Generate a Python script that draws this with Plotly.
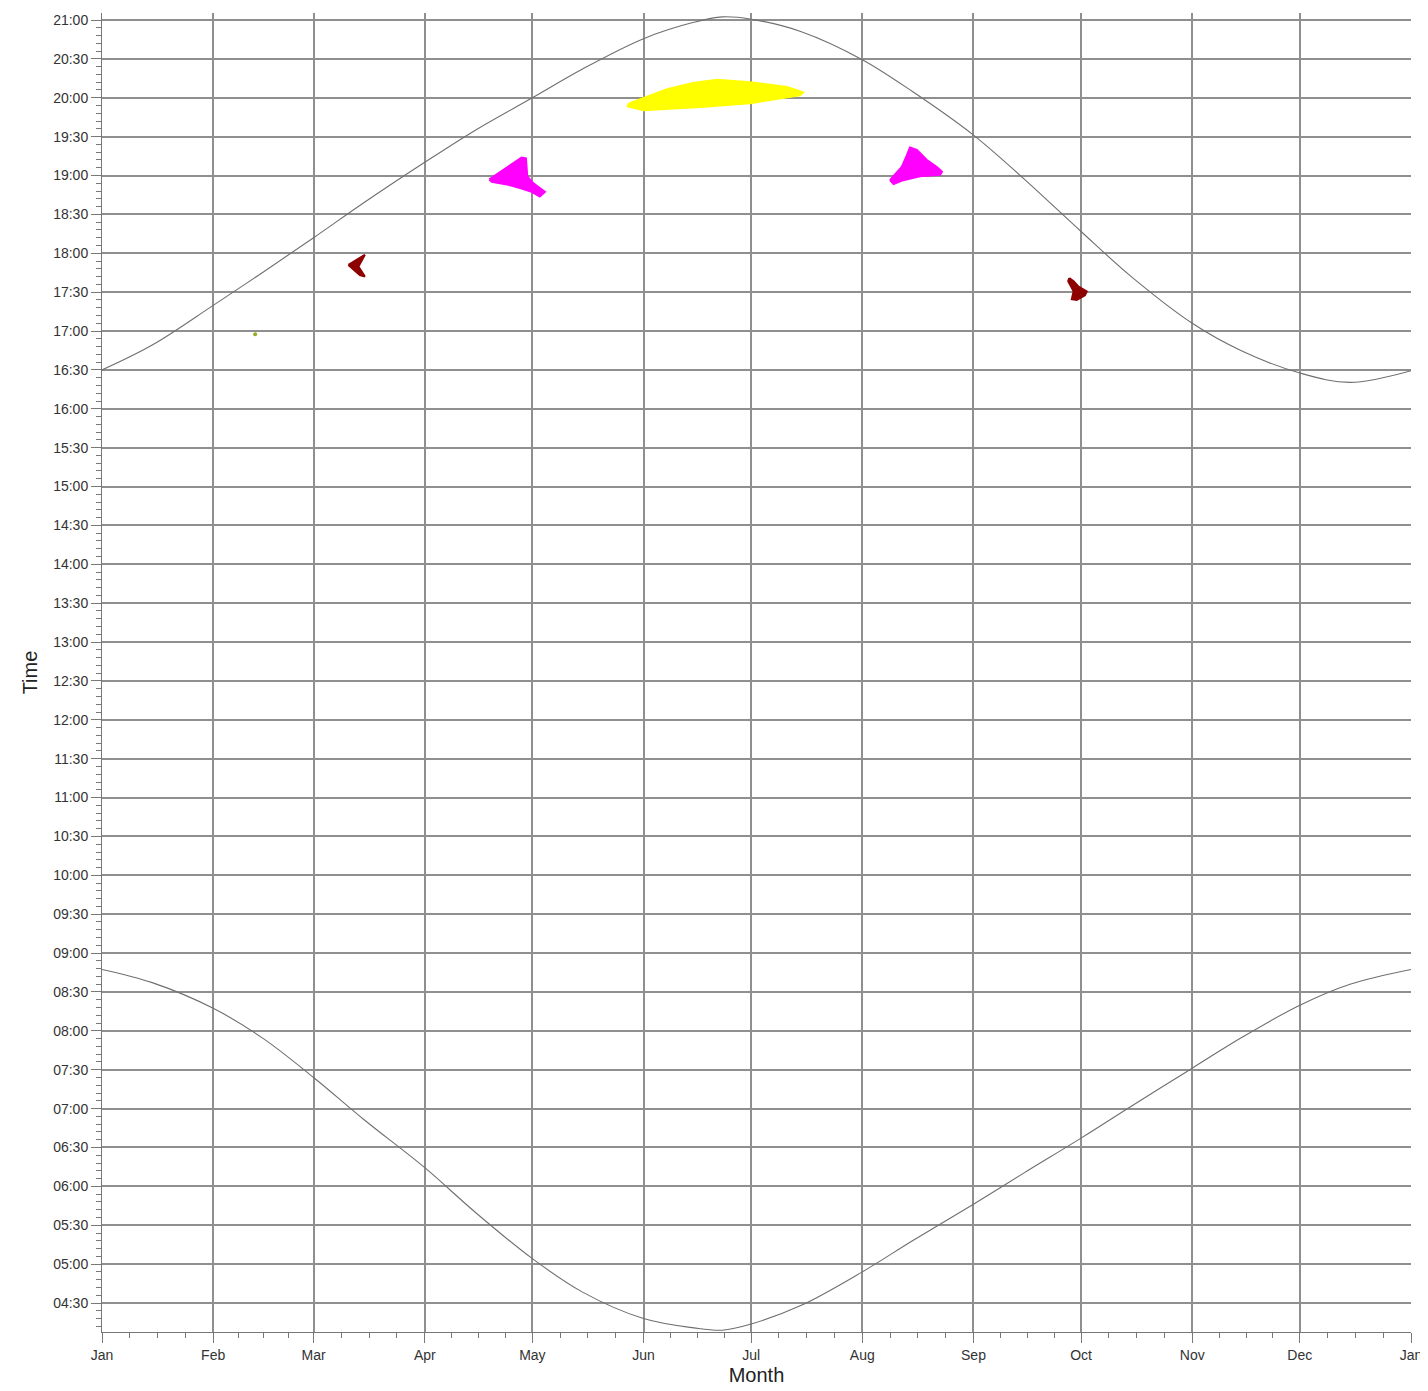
import plotly.graph_objects as go
import datetime as dt

# ---------------- data ----------------
SUN_DATES = ["2023-01-01", "2023-01-15", "2023-02-01", "2023-02-15", "2023-03-01", "2023-03-15",
             "2023-04-01", "2023-04-15", "2023-05-01", "2023-05-15", "2023-06-01", "2023-06-15",
             "2023-06-23", "2023-07-01", "2023-07-15", "2023-08-01", "2023-08-15", "2023-09-01",
             "2023-09-15", "2023-10-01", "2023-10-15", "2023-11-01", "2023-11-15", "2023-12-01",
             "2023-12-15", "2024-01-01"]
SUNSET_HOURS = [16.50, 16.82, 17.33, 17.76, 18.20, 18.65, 19.17, 19.58, 20.00, 20.37, 20.76, 20.97,
                21.04, 21.01, 20.85, 20.49, 20.08, 19.52, 18.96, 18.28, 17.70, 17.10, 16.74, 16.46,
                16.34, 16.49]
SUNRISE_HOURS = [8.79, 8.62, 8.29, 7.90, 7.40, 6.86, 6.24, 5.67, 5.07, 4.64, 4.30, 4.18,
                 4.15, 4.23, 4.47, 4.90, 5.30, 5.77, 6.17, 6.62, 7.03, 7.52, 7.92, 8.33,
                 8.60, 8.79]

YELLOW_DATES = ["2023-05-27 10:00", "2023-06-01 00:00", "2023-06-16 19:00", "2023-06-30 17:00",
                "2023-07-14 14:00", "2023-07-15 12:00", "2023-07-11 00:00", "2023-06-30 17:00",
                "2023-06-21 12:00", "2023-06-14 19:00", "2023-06-07 14:00", "2023-06-02 00:00",
                "2023-05-28 05:00"]
YELLOW_HOURS = [19.89, 19.84, 19.88, 19.93, 20.03, 20.07, 20.14, 20.20, 20.23, 20.19, 20.11, 20.01, 19.93]

MAGENTA1_DATES = ["2023-04-19 00:00", "2023-04-26 14:00", "2023-04-28 00:00", "2023-04-29 05:00",
                  "2023-04-29 14:00", "2023-05-01 07:00", "2023-05-04 12:00", "2023-05-03 02:00",
                  "2023-04-30 19:00", "2023-04-27 14:00", "2023-04-24 07:00", "2023-04-19 17:00"]
MAGENTA1_HOURS = [18.95, 19.18, 19.23, 19.22, 18.99, 18.90, 18.79, 18.73, 18.79, 18.84, 18.88, 18.92]

MAGENTA2_DATES = ["2023-08-08 17:00", "2023-08-12 00:00", "2023-08-13 10:00", "2023-08-14 07:00",
                  "2023-08-16 05:00", "2023-08-19 00:00", "2023-08-21 19:00", "2023-08-23 05:00",
                  "2023-08-22 17:00", "2023-08-17 02:00", "2023-08-12 10:00", "2023-08-09 17:00"]
MAGENTA2_HOURS = [18.94, 19.11, 19.26, 19.36, 19.33, 19.20, 19.11, 19.05, 19.01, 18.99, 18.94, 18.89]

DARKRED1_DATES = ["2023-03-10 17:00", "2023-03-15 07:00", "2023-03-13 12:00", "2023-03-15 07:00",
                  "2023-03-13 22:00"]
DARKRED1_HOURS = [17.85, 17.98, 17.83, 17.70, 17.72]

DARKRED2_DATES = ["2023-09-27 17:00", "2023-09-28 22:00", "2023-09-30 07:00", "2023-10-02 14:00",
                  "2023-10-02 02:00", "2023-09-29 19:00", "2023-09-28 10:00", "2023-09-28 22:00",
                  "2023-09-27 10:00"]
DARKRED2_HOURS = [17.68, 17.64, 17.57, 17.51, 17.46, 17.40, 17.41, 17.51, 17.64]

GREEN_DATES = ["2023-02-12 17:00"]
GREEN_HOURS = [16.96]

MONTH_TICKS = ["2023-01-01", "2023-02-01", "2023-03-01", "2023-04-01", "2023-05-01", "2023-06-01",
               "2023-07-01", "2023-08-01", "2023-09-01", "2023-10-01", "2023-11-01", "2023-12-01",
               "2024-01-01"]
MONTH_LABELS = ["Jan", "Feb", "Mar", "Apr", "May", "Jun", "Jul", "Aug", "Sep", "Oct", "Nov", "Dec", "Jan"]

TIME_TICK_LABELS = ["04:30", "05:00", "05:30", "06:00", "06:30", "07:00", "07:30", "08:00",
                    "08:30", "09:00", "09:30", "10:00", "10:30", "11:00", "11:30", "12:00",
                    "12:30", "13:00", "13:30", "14:00", "14:30", "15:00", "15:30", "16:00",
                    "16:30", "17:00", "17:30", "18:00", "18:30", "19:00", "19:30", "20:00",
                    "20:30", "21:00"]

# ---------------- helpers ----------------
def label_to_hours(s):
    h, m = s.split(":")
    return int(h) + int(m) / 60.0

time_tickvals = [label_to_hours(s) for s in TIME_TICK_LABELS]

# minor ticks on the month axis: quarter points of each month
minor_x = []
for i in range(len(MONTH_TICKS) - 1):
    a = dt.datetime.fromisoformat(MONTH_TICKS[i])
    b = dt.datetime.fromisoformat(MONTH_TICKS[i + 1])
    for k in (1, 2, 3):
        minor_x.append((a + (b - a) * k / 4).isoformat(sep=" "))

FONT = "Liberation Sans, Arial, sans-serif"
GRID = "#8f8f8f"
CURVE = "#6f6f6f"

fig = go.Figure()

fig.add_trace(go.Scatter(x=SUN_DATES, y=SUNSET_HOURS, mode="lines",
                         line=dict(color=CURVE, width=1.1, shape="spline", smoothing=1.0),
                         showlegend=False, hoverinfo="skip"))
fig.add_trace(go.Scatter(x=SUN_DATES, y=SUNRISE_HOURS, mode="lines",
                         line=dict(color=CURVE, width=1.1, shape="spline", smoothing=1.0),
                         showlegend=False, hoverinfo="skip"))

def blob(xs, ys, color):
    fig.add_trace(go.Scatter(x=xs + xs[:1], y=ys + ys[:1], mode="lines", fill="toself",
                             fillcolor=color, line=dict(color=color, width=2),
                             showlegend=False, hoverinfo="skip"))

blob(YELLOW_DATES, YELLOW_HOURS, "#ffff00")
blob(MAGENTA1_DATES, MAGENTA1_HOURS, "#ff00ff")
blob(MAGENTA2_DATES, MAGENTA2_HOURS, "#ff00ff")
blob(DARKRED1_DATES, DARKRED1_HOURS, "#8e0000")
blob(DARKRED2_DATES, DARKRED2_HOURS, "#8e0000")

fig.add_trace(go.Scatter(x=GREEN_DATES, y=GREEN_HOURS, mode="markers",
                         marker=dict(color="#9aa824", size=4, line=dict(width=0)),
                         showlegend=False, hoverinfo="skip"))

# page body has an 8px margin, so the figure is shrunk by 8px and margins shifted
fig.update_layout(
    width=1420, height=1383,
    margin=dict(l=94, r=17, t=5, b=59),
    paper_bgcolor="white", plot_bgcolor="white",
    font=dict(family=FONT, color="#333333"),
    showlegend=False,
)

fig.update_xaxes(
    type="date",
    range=["2023-01-01", "2024-01-01"],
    tickmode="array", tickvals=MONTH_TICKS, ticktext=MONTH_LABELS,
    ticks="outside", ticklen=10, tickwidth=1, tickcolor="#777777",
    tickfont=dict(size=14, color="#333333"),
    ticklabeloverflow="allow",
    showgrid=True, gridcolor=GRID, gridwidth=1.5,
    showline=True, linecolor="#777777", linewidth=1,
    zeroline=False,
    minor=dict(tickmode="array", tickvals=minor_x, ticks="outside", ticklen=5,
               tickcolor="#777777", tickwidth=1, showgrid=False),
    title=dict(text="Month", font=dict(size=20, color="#222222"), standoff=6),
    automargin=False,
)

fig.update_yaxes(
    range=[4.127, 21.09],
    tickmode="array", tickvals=time_tickvals, ticktext=TIME_TICK_LABELS,
    ticks="outside", ticklen=10, tickwidth=1, tickcolor="#777777",
    tickfont=dict(size=14, color="#333333"),
    showgrid=True, gridcolor=GRID, gridwidth=1.5,
    showline=True, linecolor="#777777", linewidth=1,
    zeroline=False,
    minor=dict(tick0=0, dtick=0.1, ticks="outside", ticklen=5,
               tickcolor="#777777", tickwidth=1, showgrid=False),
    title=dict(text="Time", font=dict(size=20, color="#222222"), standoff=10),
    automargin=False,
)

fig.write_html("out.html")
